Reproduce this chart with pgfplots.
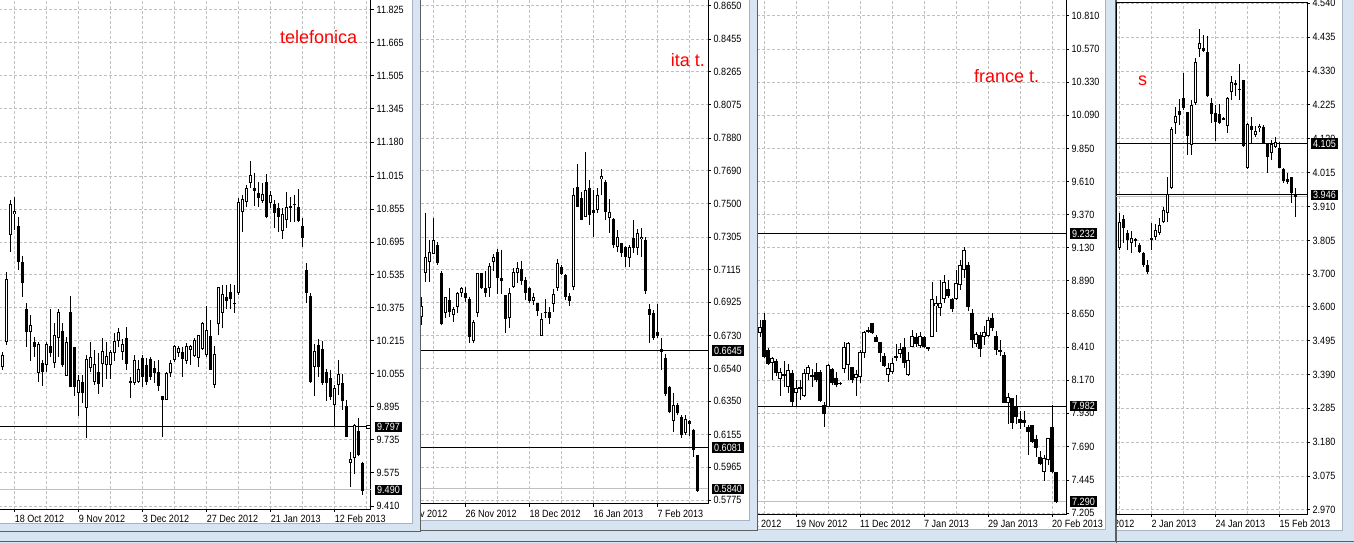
\documentclass[border=0pt]{standalone}
\usepackage{pgfplots}
\pgfplotsset{compat=1.18}
\usepackage{pgfplotstable}
\usepackage{fontspec}
\setmainfont{Liberation Sans}
\newfontfamily\mtfam[FakeStretch=0.86]{Liberation Sans}
\newcommand\mtf{\mtfam\fontsize{10.5}{12}\selectfont}
\newcommand\ttl{\fontsize{18}{20}\selectfont}
\definecolor{mtframe}{HTML}{D7E4F2}
\definecolor{mtgrid}{HTML}{C0C0C0}
\definecolor{mtborder}{HTML}{5F5F5F}
\definecolor{mtedge}{HTML}{A9B4C2}

% daily candles: k = bar index, o h l c
\pgfplotstableread{
k o h l c
-3 10.089 10.160 10.073 10.146
-2 10.210 10.549 10.194 10.514
-1 10.729 10.899 10.648 10.880
0 10.830 10.914 10.753 10.847
1 10.773 10.816 10.559 10.598
2 10.598 10.627 10.428 10.496
3 10.368 10.397 10.183 10.256
4 10.259 10.340 10.118 10.291
5 10.210 10.235 10.137 10.183
6 10.057 10.210 10.016 10.199
7 10.105 10.121 9.995 10.065
8 10.097 10.210 10.065 10.199
9 10.189 10.368 10.134 10.157
10 10.105 10.300 10.085 10.243
11 10.227 10.368 10.134 10.356
12 10.264 10.302 10.089 10.097
13 10.044 10.235 10.044 10.210
14 10.356 10.432 9.992 9.992
15 10.183 10.183 9.947 9.992
16 9.960 10.049 9.849 10.024
17 10.016 10.049 9.911 9.963
18 9.886 10.146 9.742 10.125
19 10.085 10.210 10.063 10.134
20 10.016 10.170 10.000 10.102
21 10.061 10.157 9.956 10.005
22 10.102 10.227 9.992 10.166
23 10.097 10.210 10.028 10.141
24 10.097 10.170 10.028 10.162
25 10.157 10.254 10.118 10.215
26 10.215 10.275 10.186 10.259
27 10.162 10.222 10.121 10.199
28 10.227 10.280 10.073 10.102
29 10.019 10.040 9.935 10.014
30 10.011 10.146 10.000 10.121
31 10.016 10.121 10.008 10.076
32 10.130 10.146 9.989 10.040
33 10.097 10.130 10.000 10.016
34 10.125 10.134 10.024 10.037
35 10.085 10.118 10.008 10.056
36 10.061 10.121 9.972 9.995
37 9.947 9.947 9.747 9.927
38 9.927 10.065 9.927 10.057
39 10.057 10.121 10.037 10.105
40 10.121 10.194 10.113 10.189
41 10.154 10.189 10.134 10.178
42 10.162 10.183 10.040 10.125
43 10.118 10.202 10.102 10.189
44 10.170 10.194 10.097 10.189
45 10.141 10.227 10.134 10.219
46 10.130 10.243 10.089 10.243
47 10.174 10.308 10.170 10.303
48 10.146 10.384 10.137 10.267
49 10.238 10.316 10.073 10.073
50 10.000 10.189 9.984 10.151
51 10.296 10.475 10.243 10.475
52 10.351 10.486 10.275 10.442
53 10.426 10.486 10.368 10.410
54 10.453 10.491 10.368 10.416
55 10.398 10.486 10.348 10.397
56 10.445 10.908 10.436 10.892
57 10.843 10.924 10.745 10.903
58 10.892 10.973 10.868 10.956
59 10.981 11.089 10.956 11.021
60 10.956 11.029 10.871 10.945
61 10.932 10.989 10.864 10.908
62 10.896 10.984 10.883 10.929
63 10.989 11.025 10.811 10.815
64 10.887 10.945 10.859 10.924
65 10.880 10.899 10.762 10.835
66 10.859 10.884 10.745 10.815
67 10.749 10.859 10.712 10.831
68 10.802 10.940 10.762 10.864
69 10.871 10.916 10.793 10.859
70 10.880 10.924 10.793 10.879
71 10.867 10.952 10.794 10.799
72 10.773 10.811 10.671 10.713
73 10.559 10.594 10.400 10.446
74 10.432 10.448 10.011 10.016
75 10.089 10.199 9.947 10.167
76 10.194 10.222 10.040 10.089
77 10.174 10.215 10.000 10.008
78 10.061 10.076 9.924 10.008
79 10.032 10.073 9.927 9.943
80 9.903 10.000 9.802 9.984
81 10.000 10.121 9.951 10.053
82 10.011 10.053 9.878 9.924
83 9.898 9.927 9.746 9.746
84 9.620 9.672 9.504 9.640
85 9.644 9.811 9.568 9.806
86 9.776 9.840 9.655 9.660
87 9.623 9.628 9.463 9.487
}\tel

\pgfplotstableread{
k o h l c
-11 0.6841 0.6958 0.6793 0.6904
-10 0.7094 0.7443 0.7045 0.7187
-9 0.7158 0.7288 0.7045 0.7216
-8 0.7206 0.7414 0.7206 0.7288
-7 0.7258 0.7278 0.7142 0.7156
-6 0.7097 0.7109 0.6793 0.6799
-5 0.6865 0.6958 0.6832 0.6954
-4 0.6939 0.7007 0.6838 0.6871
-3 0.6851 0.6900 0.6812 0.6884
-2 0.6896 0.6987 0.6865 0.6981
-1 0.6981 0.7012 0.6958 0.7007
0 0.6978 0.7012 0.6929 0.6948
1 0.6943 0.6958 0.6687 0.6725
2 0.6702 0.6822 0.6687 0.6812
3 0.6865 0.7094 0.6841 0.7094
4 0.7094 0.7094 0.7001 0.7007
5 0.7007 0.7109 0.6954 0.6981
6 0.7007 0.7152 0.6958 0.7136
7 0.7161 0.7206 0.7109 0.7187
8 0.7220 0.7234 0.6974 0.7065
9 0.7065 0.7229 0.6974 0.7051
10 0.6968 0.6968 0.6745 0.6826
11 0.6832 0.7007 0.6774 0.6981
12 0.7012 0.7123 0.7007 0.7103
13 0.7097 0.7161 0.7039 0.7123
14 0.7117 0.7167 0.7026 0.7051
15 0.7055 0.7071 0.6939 0.6978
16 0.7007 0.7012 0.6919 0.6935
17 0.6935 0.6978 0.6910 0.6958
18 0.6919 0.6923 0.6846 0.6876
19 0.6729 0.6861 0.6729 0.6826
20 0.6861 0.6943 0.6832 0.6871
21 0.6871 0.6896 0.6799 0.6832
22 0.6915 0.7001 0.6871 0.6974
23 0.7007 0.7175 0.6993 0.7156
24 0.7129 0.7142 0.7084 0.7090
25 0.7084 0.7090 0.6939 0.6954
26 0.6962 0.6978 0.6904 0.6935
27 0.7012 0.7588 0.6997 0.7549
28 0.7594 0.7730 0.7481 0.7481
29 0.7530 0.7568 0.7404 0.7404
30 0.7423 0.7801 0.7423 0.7578
31 0.7588 0.7637 0.7375 0.7432
32 0.7460 0.7578 0.7307 0.7443
33 0.7460 0.7588 0.7443 0.7549
34 0.7641 0.7699 0.7549 0.7660
35 0.7627 0.7637 0.7404 0.7452
36 0.7414 0.7524 0.7327 0.7452
37 0.7408 0.7414 0.7239 0.7258
38 0.7249 0.7346 0.7220 0.7303
39 0.7268 0.7272 0.7187 0.7210
40 0.7245 0.7253 0.7132 0.7191
41 0.7183 0.7259 0.7132 0.7249
42 0.7297 0.7404 0.7210 0.7239
43 0.7239 0.7350 0.7200 0.7327
44 0.7291 0.7356 0.7191 0.7303
45 0.7288 0.7307 0.6973 0.6993
46 0.6884 0.6915 0.6686 0.6851
47 0.6861 0.6880 0.6706 0.6716
48 0.6754 0.6915 0.6716 0.6729
49 0.6652 0.6716 0.6531 0.6638
50 0.6599 0.6624 0.6380 0.6392
51 0.6434 0.6438 0.6283 0.6289
52 0.6235 0.6400 0.6172 0.6328
53 0.6328 0.6338 0.6270 0.6280
54 0.6260 0.6270 0.6134 0.6154
55 0.6164 0.6270 0.6154 0.6245
56 0.6232 0.6238 0.6145 0.6218
57 0.6180 0.6188 0.6026 0.6066
58 0.6037 0.6037 0.5823 0.5829
}\ita

\pgfplotstableread{
k o h l c
-9 8.510 8.606 8.485 8.557
-8 8.606 8.655 8.328 8.340
-7 8.389 8.401 8.280 8.287
-6 8.292 8.336 8.171 8.328
-5 8.311 8.321 8.200 8.220
-4 8.176 8.256 8.055 8.232
-3 8.207 8.311 8.122 8.215
-2 8.122 8.287 8.079 8.244
-1 8.220 8.244 7.978 8.014
0 8.079 8.171 7.978 8.111
1 8.117 8.171 8.026 8.117
2 8.055 8.249 8.050 8.220
3 8.215 8.280 8.171 8.263
4 8.207 8.249 8.117 8.191
5 8.231 8.292 8.159 8.171
6 8.231 8.244 8.014 8.021
7 7.990 8.014 7.833 7.925
8 7.978 8.287 7.974 8.280
9 8.249 8.256 8.135 8.147
10 8.183 8.231 8.117 8.135
11 8.152 8.159 8.135 8.142
12 8.249 8.449 8.220 8.412
13 8.280 8.444 8.171 8.437
14 8.263 8.268 8.147 8.168
15 8.183 8.244 8.055 8.215
16 8.195 8.389 8.147 8.376
17 8.369 8.529 8.328 8.521
18 8.521 8.553 8.510 8.534
19 8.582 8.587 8.505 8.510
20 8.485 8.497 8.449 8.449
21 8.449 8.449 8.304 8.365
22 8.345 8.365 8.268 8.273
23 8.207 8.292 8.159 8.256
24 8.231 8.328 8.215 8.292
25 8.336 8.432 8.311 8.345
26 8.360 8.442 8.328 8.394
27 8.408 8.473 8.256 8.297
28 8.207 8.376 8.200 8.316
29 8.412 8.534 8.408 8.490
30 8.485 8.510 8.408 8.432
31 8.418 8.521 8.401 8.490
32 8.485 8.490 8.401 8.412
33 8.408 8.412 8.384 8.394
34 8.485 8.884 8.485 8.756
35 8.707 8.780 8.516 8.727
36 8.691 8.896 8.635 8.727
37 8.756 8.932 8.727 8.884
38 8.829 8.896 8.763 8.780
39 8.756 8.763 8.666 8.684
40 8.756 8.968 8.751 8.872
41 8.860 9.041 8.824 9.005
42 8.969 9.136 8.911 9.114
43 9.005 9.027 8.673 8.698
44 8.659 8.684 8.401 8.461
45 8.432 8.521 8.408 8.505
46 8.497 8.521 8.336 8.394
47 8.485 8.563 8.425 8.516
48 8.490 8.630 8.485 8.606
49 8.618 8.655 8.529 8.546
50 8.490 8.529 8.352 8.389
51 8.389 8.461 8.345 8.376
52 8.352 8.376 8.002 8.002
53 8.002 8.075 7.852 8.050
54 8.038 8.038 7.814 7.862
55 7.978 8.062 7.852 7.906
56 7.886 7.949 7.814 7.862
57 7.881 7.949 7.833 7.862
58 7.833 7.845 7.628 7.797
59 7.845 7.845 7.717 7.724
60 7.741 7.772 7.611 7.676
61 7.611 7.659 7.555 7.562
62 7.506 7.628 7.436 7.604
63 7.591 7.748 7.555 7.748
64 7.828 7.990 7.499 7.506
65 7.506 7.506 7.282 7.289
}\fra

\pgfplotstableread{
k o h l c
-9 3.766 3.806 3.760 3.797
-8 3.781 3.889 3.776 3.863
-7 3.871 3.884 3.796 3.843
-6 3.827 3.837 3.776 3.807
-5 3.798 3.835 3.765 3.812
-4 3.804 3.812 3.786 3.809
-3 3.791 3.796 3.765 3.770
-2 3.767 3.770 3.724 3.729
-1 3.729 3.744 3.701 3.707
0 3.807 3.858 3.776 3.812
1 3.817 3.856 3.807 3.837
2 3.829 3.874 3.822 3.853
3 3.863 3.910 3.858 3.899
4 3.891 4.003 3.863 3.948
5 3.967 4.158 3.963 4.149
6 4.168 4.218 4.134 4.191
7 4.207 4.242 4.163 4.194
8 4.246 4.325 4.209 4.215
9 4.204 4.204 4.070 4.129
10 4.101 4.240 4.070 4.225
11 4.232 4.369 4.225 4.359
12 4.398 4.459 4.373 4.418
13 4.400 4.442 4.390 4.393
14 4.390 4.439 4.251 4.253
15 4.230 4.246 4.168 4.197
16 4.199 4.225 4.114 4.173
17 4.197 4.228 4.166 4.170
18 4.182 4.189 4.178 4.183
19 4.160 4.251 4.139 4.246
20 4.266 4.315 4.240 4.297
21 4.287 4.302 4.253 4.292
22 4.274 4.352 4.240 4.273
23 4.302 4.302 4.096 4.098
24 4.029 4.170 4.026 4.166
25 4.160 4.189 4.104 4.147
26 4.132 4.160 4.127 4.145
27 4.153 4.166 4.142 4.160
28 4.156 4.163 4.104 4.106
29 4.106 4.108 4.013 4.065
30 4.077 4.116 4.054 4.104
31 4.096 4.125 4.091 4.111
32 4.091 4.111 4.029 4.029
33 4.026 4.029 3.984 3.990
34 3.995 4.013 3.980 3.987
35 4.001 4.001 3.920 3.953
36 3.946 3.967 3.879 3.941
}\sss

\pgfplotsset{
  mt/.style={scale only axis, anchor=south west,
    axis line style={line width=1pt},
    tick style={line width=1pt, black},
    major tick length=3pt, minor tick length=0pt,
    tick align=outside, xtick pos=left, ytick pos=right, yticklabel pos=right,
    xmajorgrids, ymajorgrids, xminorgrids,
    grid style={mtgrid, line width=1pt, dash pattern=on 3pt off 2pt},
    yticklabel style={font=\mtf, anchor=west, inner sep=0pt, xshift=2.5pt},
    xticklabel style={font=\mtf, anchor=north west, inner sep=0pt, yshift=-3pt},
    /pgf/number format/fixed, /pgf/number format/fixed zerofill,
    /pgf/number format/precision=3, /pgf/number format/assume math mode=true},
}
\tikzset{
  lbl/.style={fill=black, text=white, font=\mtf, anchor=west, inner xsep=2.5pt, inner ysep=1.5pt},
  cut/.style={font=\mtf, anchor=north west, inner sep=0pt},
  ttlnode/.style={anchor=base west, inner sep=0pt, text=red, font=\ttl},
}

% wick, body, hollow inside of rising bodies
\newcommand\candles[3]{%
  \addplot[draw=none, mark=none, forget plot,
    error bars/.cd, y dir=both, y explicit, error mark=none,
    error bar style={draw=black, line width=1pt, solid}]
    table[x=k, y expr={(\thisrow{h}+\thisrow{l})/2}, y error expr={(\thisrow{h}-\thisrow{l})/2}]{#1};
  \addplot[draw=none, mark=none, forget plot,
    error bars/.cd, y dir=both, y explicit, error mark=none,
    error bar style={draw=black, line width=3.4pt, solid}]
    table[x=k, y expr={(\thisrow{o}+\thisrow{c})/2}, y error expr={max(abs(\thisrow{o}-\thisrow{c})/2,#2)}]{#1};
  \addplot[draw=none, mark=none, forget plot,
    restrict expr to domain={\thisrow{c}-\thisrow{o}-2*#3}{0:100},
    error bars/.cd, y dir=both, y explicit, error mark=none,
    error bar style={draw=white, line width=1.4pt, solid}]
    table[x=k, y expr={(\thisrow{o}+\thisrow{c})/2}, y error expr={(\thisrow{c}-\thisrow{o})/2-#3}]{#1};
}

\begin{document}
\begin{tikzpicture}
\useasboundingbox (0,0) rectangle (1354pt,-543pt);
\begin{scope}[x=1pt,y=-1pt]
  \fill[mtframe] (0,0) rectangle (1354,543);
  \draw[mtborder] (0,541.5) -- (1354,541.5);
  % window s
  \fill[white] (1116,-5) rectangle (1342,530);
  \draw[mtedge] (1342.5,-5) -- (1342.5,530.5) -- (1116,530.5);
  \draw[mtborder] (1116.5,0) -- (1116.5,543);
\end{scope}

% ---------- s
\begin{axis}[mt, at={(1116pt,-514pt)}, width=191pt, height=511.3pt,
  xmin=-8.825, xmax=38.925, ymin=2.9574, ymax=4.5418,
  xtick={0,16,32}, xticklabels={2 Jan 2013, 24 Jan 2013, 15 Feb 2013},
  minor xtick={-8,8,24},
  ytick={2.970,3.075,3.180,3.285,3.390,3.495,3.600,3.700,3.805,3.910,4.015,4.120,4.225,4.330,4.435,4.540}]
  \addplot[black, line width=1pt] coordinates {(-8.825,4.105) (38.925,4.105)};
  \addplot[mtgrid, line width=1.5pt] coordinates {(-8.825,3.942) (38.925,3.942)};
  \addplot[black, line width=1pt] coordinates {(-8.825,3.946) (38.925,3.946)};
  \candles{\sss}{0.00155}{0.0031}
  \coordinate (sa) at (axis cs:38.925,4.105);
  \coordinate (sb) at (axis cs:38.925,3.946);
\end{axis}
\node[lbl, xshift=3.5pt] at (sa) {4.105};
\node[lbl, xshift=3.5pt] at (sb) {3.946};
\node[ttlnode] at (1138pt,-85.7pt) {s};
\begin{scope}
  \clip (1117pt,-505pt) rectangle (1150pt,-532pt);
  \node[cut] at (1114pt,-520pt) {2012};
\end{scope}

% ---------- window france t.
\begin{scope}[x=1pt,y=-1pt]
  \fill[mtframe] (757,-5) rectangle (1115,541);
  \fill[white] (757,-5) rectangle (1105,529);
  \draw[mtedge] (1105.5,-5) -- (1105.5,529.5) -- (757,529.5);
  \draw[mtborder] (1115,-5) -- (1115,541.5);
\end{scope}
\begin{axis}[mt, at={(757pt,-514pt)}, width=309pt, height=515pt,
  xmin=-9.75, xmax=67.5, ymin=7.200, ymax=10.933,
  xtick={0,16,32,48,64}, xticklabels={19 Nov 2012, 11 Dec 2012, 7 Jan 2013, 29 Jan 2013, 20 Feb 2013},
  minor xtick={-8,8,24,40,56},
  ytick={7.205,7.445,7.690,7.930,8.170,8.410,8.650,8.890,9.130,9.370,9.610,9.850,10.090,10.330,10.570,10.810}]
  \addplot[black, line width=1pt] coordinates {(-9.75,9.232) (67.5,9.232)};
  \addplot[black, line width=1pt] coordinates {(-9.75,7.982) (67.5,7.982)};
  \addplot[mtgrid, line width=1pt] coordinates {(-9.75,7.290) (67.5,7.290)};
  \candles{\fra}{0.0036}{0.00725}
  \coordinate (fa) at (axis cs:67.5,9.232);
  \coordinate (fb) at (axis cs:67.5,7.982);
  \coordinate (fc) at (axis cs:67.5,7.290);
\end{axis}
\node[lbl, xshift=3.5pt] at (fa) {9.232};
\node[lbl, xshift=3.5pt] at (fb) {7.982};
\node[lbl, xshift=3.5pt] at (fc) {7.290};
\node[ttlnode] at (974pt,-82.3pt) {france t.};
\begin{scope}
  \clip (758.5pt,-505pt) rectangle (790pt,-532pt);
  \node[cut] at (756pt,-520pt) {t 2012};
\end{scope}

% ---------- window ita t.
\begin{scope}[x=1pt,y=-1pt]
  \fill[mtframe] (420,-5) rectangle (757,530.5);
  \fill[white] (420,-5) rectangle (748.5,519.5);
  \draw[mtedge] (749,-5) -- (749,520) -- (420,520);
  \draw[mtborder] (757,-5) -- (757,530.5) -- (420,530.5);
\end{scope}
\begin{axis}[mt, at={(420.5pt,-503.5pt)}, width=287.5pt, height=504.5pt,
  xmin=-11.2, xmax=60.675, ymin=0.57548, ymax=0.86895,
  /pgf/number format/precision=4,
  xtick={0,16,32,48}, xticklabels={26 Nov 2012, 18 Dec 2012, 16 Jan 2013, 7 Feb 2013},
  minor xtick={-8,8,24,40,56},
  ytick={0.5775,0.5965,0.6155,0.6350,0.6540,0.6730,0.6925,0.7115,0.7305,0.7500,0.7690,0.7880,0.8075,0.8265,0.8455,0.8650}]
  \addplot[black, line width=1pt] coordinates {(-11.2,0.6645) (60.675,0.6645)};
  \addplot[black, line width=1pt] coordinates {(-11.2,0.6081) (60.675,0.6081)};
  \addplot[mtgrid, line width=1pt] coordinates {(-11.2,0.5840) (60.675,0.5840)};
  \candles{\ita}{0.00029}{0.00058}
  \coordinate (ia) at (axis cs:60.675,0.6645);
  \coordinate (ib) at (axis cs:60.675,0.6081);
  \coordinate (ic) at (axis cs:60.675,0.5840);
\end{axis}
\node[lbl, xshift=3.5pt] at (ia) {0.6645};
\node[lbl, xshift=3.5pt] at (ib) {0.6081};
\node[lbl, xshift=3.5pt] at (ic) {0.5840};
\node[ttlnode] at (670.7pt,-66.7pt) {ita t.};
\begin{scope}
  \clip (421.5pt,-500pt) rectangle (455pt,-525pt);
  \node[cut] at (420pt,-510pt) {v 2012};
\end{scope}

% ---------- window telefonica
\begin{scope}[x=1pt,y=-1pt]
  \fill[mtframe] (-5,-5) rectangle (420,531.5);
  \fill[white] (-5,-5) rectangle (411.5,522.5);
  \draw[mtedge] (412,-5) -- (412,523) -- (-5,523);
  \draw[mtborder] (420,-5) -- (420,531.5) -- (-5,531.5);
\end{scope}
\begin{axis}[mt, at={(-1pt,-509pt)}, width=372pt, height=510pt,
  xmin=-3.925, xmax=89.075, ymin=9.397, ymax=11.877,
  xtick={0,16,32,48,64,80}, xticklabels={18 Oct 2012, 9 Nov 2012, 3 Dec 2012, 27 Dec 2012, 21 Jan 2013, 12 Feb 2013},
  minor xtick={8,24,40,56,72,88},
  ytick={9.410,9.575,9.735,9.895,10.055,10.215,10.375,10.535,10.695,10.855,11.015,11.180,11.345,11.505,11.665,11.825}]
  \addplot[black, line width=1pt] coordinates {(-3.925,9.797) (89.075,9.797)};
  \addplot[mtgrid, line width=1pt] coordinates {(-3.925,9.490) (89.075,9.490)};
  \candles{\tel}{0.0024}{0.00486}
  \addplot[only marks, mark=square*, mark size=1.8pt, mark options={fill=white, draw=black, line width=0.8pt}] coordinates {(88.45,9.797)};
  \coordinate (ta) at (axis cs:89.075,9.797);
  \coordinate (tb) at (axis cs:89.075,9.490);
\end{axis}
\node[lbl, xshift=3.5pt] at (ta) {9.797};
\node[lbl, xshift=3.5pt] at (tb) {9.490};
\node[ttlnode] at (280pt,-43.3pt) {telefonica};
\end{tikzpicture}
\end{document}
